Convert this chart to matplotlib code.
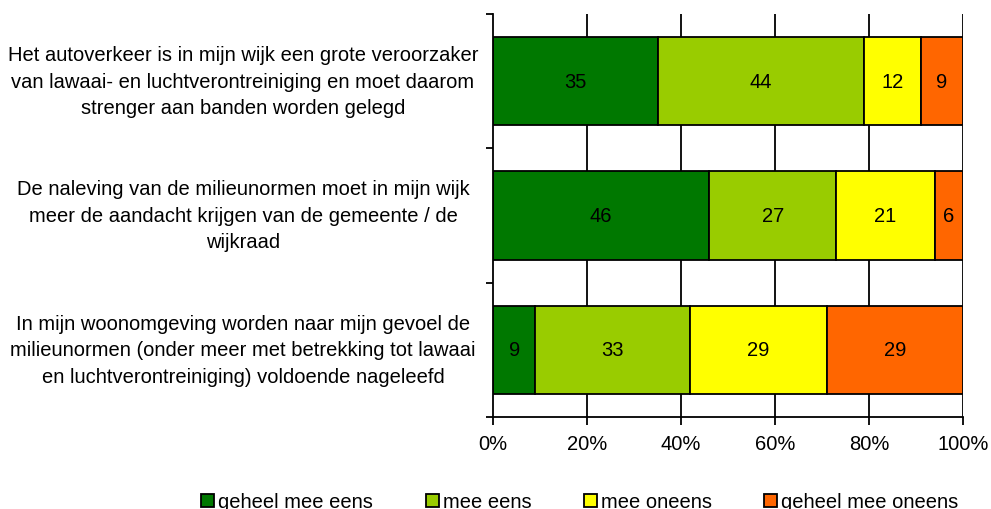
import numpy as np
import matplotlib
matplotlib.use('Agg')
import matplotlib.pyplot as plt
import matplotlib.transforms as mtransforms
from matplotlib.patches import Patch

plt.rcParams['font.family'] = ['Liberation Sans', 'DejaVu Sans']

# stellingen (van boven naar beneden)
categories = [
    "Het autoverkeer is in mijn wijk een grote veroorzaker\nvan lawaai- en luchtverontreiniging en moet daarom\nstrenger aan banden worden gelegd",
    "De naleving van de milieunormen moet in mijn wijk\nmeer de aandacht krijgen van de gemeente / de\nwijkraad",
    "In mijn woonomgeving worden naar mijn gevoel de\nmilieunormen (onder meer met betrekking tot lawaai\nen luchtverontreiniging) voldoende nageleefd",
]
series = ["geheel mee eens", "mee eens", "mee oneens", "geheel mee oneens"]
geheel_eens = [35, 46, 9]
eens = [44, 27, 33]
oneens = [12, 21, 29]
geheel_oneens = [9, 6, 29]
colors = ["#007800", "#99CC00", "#FFFF00", "#FF6600"]
xticks = [0, 20, 40, 60, 80, 100]

values = [geheel_eens, eens, oneens, geheel_oneens]
fs = 14.5

fig = plt.figure(figsize=(9.91, 5.10), dpi=100)
ax = fig.add_axes([493/991, 1 - 418/510, (963 - 493)/991, (418 - 15)/510])

ypos = np.arange(len(categories))[::-1]

# rasterlijnen achter de balken
for xv in xticks[1:]:
    ax.axvline(xv, color='black', lw=1.3, zorder=0)

left = np.zeros(len(categories))
for vals, col in zip(values, colors):
    vals = np.array(vals)
    ax.barh(ypos, vals, left=left, height=0.66, color=col,
            edgecolor='black', linewidth=1.3, zorder=2)
    for y, l, v in zip(ypos, left, vals):
        ax.text(l + v / 2, y, str(v), ha='center', va='center',
                fontsize=fs, zorder=3)
    left = left + vals

ax.set_xlim(0, 100)
ax.set_ylim(-0.5, len(categories) - 0.5)
ax.set_xticks(xticks)
ax.set_xticklabels([f"{x}%" for x in xticks], fontsize=fs)
ax.set_yticks(np.arange(len(categories) + 1) - 0.5)
ax.set_yticklabels([])
ax.tick_params(axis='x', length=6, width=1.3, direction='out', pad=6)
ax.tick_params(axis='y', length=5, width=1.3, direction='out')

# categorie-labels links, gecentreerd
trans = mtransforms.blended_transform_factory(fig.transFigure, ax.transData)
for y, lab in zip(ypos, categories):
    ax.text(243/991, y, lab, ha='center', va='center', fontsize=fs,
            linespacing=1.5, transform=trans, clip_on=False)

for s in ['top', 'right']:
    ax.spines[s].set_visible(False)
ax.spines['left'].set_linewidth(1.3)
ax.spines['bottom'].set_linewidth(1.3)

handles = [Patch(facecolor=c, edgecolor='black', linewidth=1.3) for c in colors]
fig.legend(handles, series, loc='center', bbox_to_anchor=(580/991, 1 - 503/510),
           ncol=4, frameon=False, fontsize=fs, handlelength=0.65, handleheight=0.65,
           handletextpad=0.2, columnspacing=2.6)

fig.savefig("out.png", dpi=100)
